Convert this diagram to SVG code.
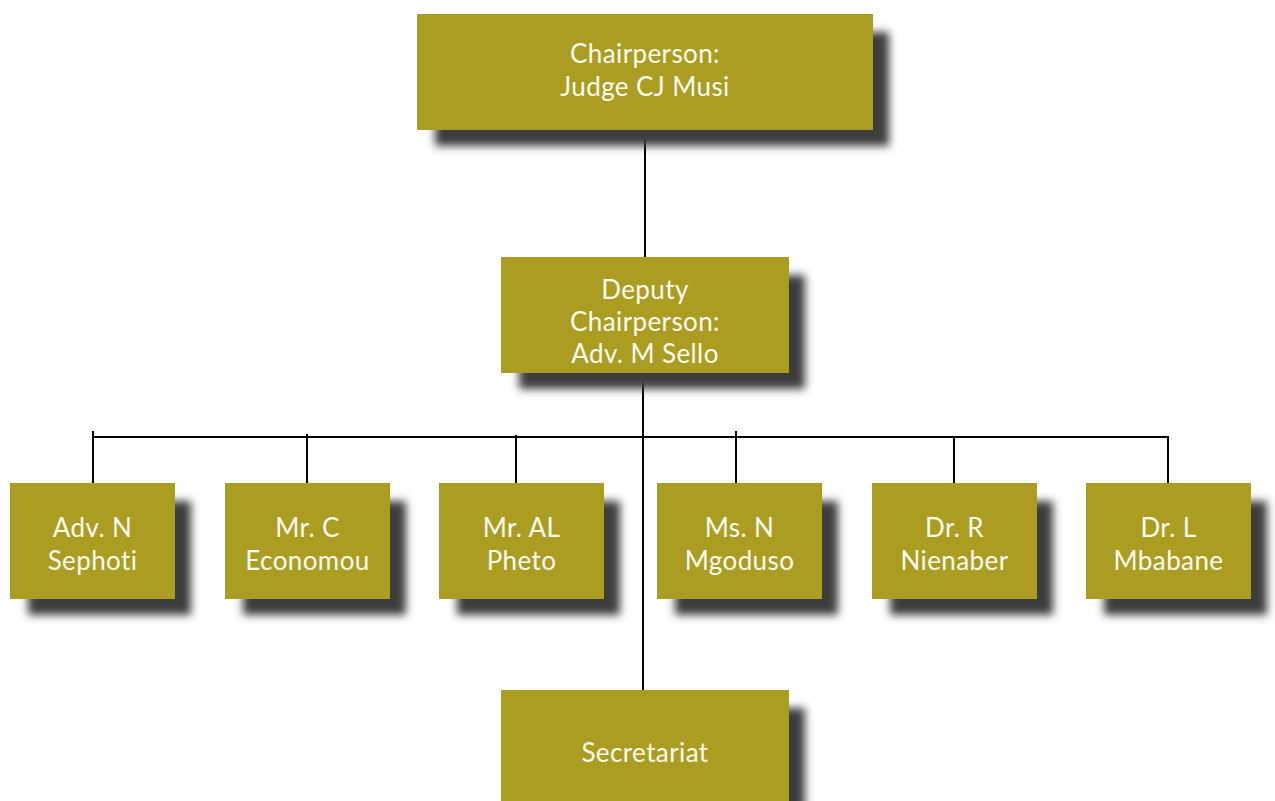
<svg xmlns="http://www.w3.org/2000/svg" width="1275" height="801" viewBox="0 0 1275 801">
<defs>
<filter id="sh" x="-20%" y="-20%" width="150%" height="150%">
<feGaussianBlur stdDeviation="4"/>
</filter>
</defs>
<style>
.box{fill:#ab9d22}
.shadow{fill:#3c3c3c;filter:url(#sh)}
.t{fill:#fbfbf0;font-family:Lato,"Noto Sans",sans-serif;font-size:26px;font-weight:400;letter-spacing:0.4px;text-anchor:middle}
.c{stroke:#000;stroke-width:2;fill:none}
</style>
<rect width="1275" height="801" fill="#fff"/>
<g id="connectors">
<line class="c" x1="645" y1="124" x2="645" y2="258"/>
<line class="c" x1="643" y1="372" x2="643" y2="691"/>
<polyline class="c" points="93,437 1168,437 1168,484"/>
<line class="c" x1="93" y1="431" x2="93" y2="488"/>
<line class="c" x1="307" y1="434" x2="307" y2="485"/>
<line class="c" x1="516" y1="435" x2="516" y2="484"/>
<line class="c" x1="736" y1="431" x2="736" y2="488"/>
<line class="c" x1="954" y1="437" x2="954" y2="484"/>
</g>
<g id="chair">
<rect class="shadow" x="435" y="32" width="454" height="114"/>
<rect class="box" x="417" y="14" width="456" height="116"/>
<text class="t" x="645" y="63">Chairperson:</text>
<text class="t" x="645" y="96">Judge CJ Musi</text>
</g>
<g id="deputy">
<rect class="shadow" x="519" y="275" width="286" height="114"/>
<rect class="box" x="501" y="257" width="288" height="116"/>
<text class="t" x="645" y="299">Deputy</text>
<text class="t" x="645" y="331">Chairperson:</text>
<text class="t" x="645" y="363">Adv. M Sello</text>
</g>
<g id="sephoti">
<rect class="shadow" x="28" y="501" width="163" height="114"/>
<rect class="box" x="10" y="483" width="165" height="116"/>
<text class="t" x="92.5" y="537">Adv. N</text>
<text class="t" x="92.5" y="570">Sephoti</text>
</g>
<g id="economou">
<rect class="shadow" x="243" y="501" width="163" height="114"/>
<rect class="box" x="225" y="483" width="165" height="116"/>
<text class="t" x="307.5" y="537">Mr. C</text>
<text class="t" x="307.5" y="570">Economou</text>
</g>
<g id="pheto">
<rect class="shadow" x="457" y="501" width="163" height="114"/>
<rect class="box" x="439" y="483" width="165" height="116"/>
<text class="t" x="521.5" y="537">Mr. AL</text>
<text class="t" x="521.5" y="570">Pheto</text>
</g>
<g id="mgoduso">
<rect class="shadow" x="675" y="501" width="163" height="114"/>
<rect class="box" x="657" y="483" width="165" height="116"/>
<text class="t" x="739.5" y="537">Ms. N</text>
<text class="t" x="739.5" y="570">Mgoduso</text>
</g>
<g id="nienaber">
<rect class="shadow" x="890" y="501" width="163" height="114"/>
<rect class="box" x="872" y="483" width="165" height="116"/>
<text class="t" x="954.5" y="537">Dr. R</text>
<text class="t" x="954.5" y="570">Nienaber</text>
</g>
<g id="mbabane">
<rect class="shadow" x="1104" y="501" width="163" height="114"/>
<rect class="box" x="1086" y="483" width="165" height="116"/>
<text class="t" x="1168.5" y="537">Dr. L</text>
<text class="t" x="1168.5" y="570">Mbabane</text>
</g>
<g id="secretariat">
<rect class="shadow" x="519" y="708" width="286" height="114"/>
<rect class="box" x="501" y="690" width="288" height="120"/>
<text class="t" x="645" y="762">Secretariat</text>
</g>
</svg>
